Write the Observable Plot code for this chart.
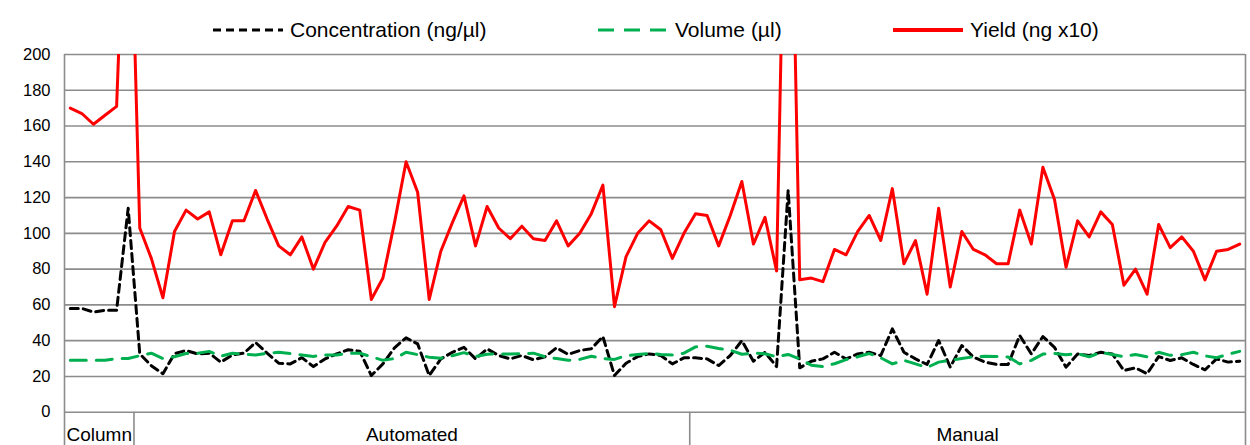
<!DOCTYPE html>
<html>
<head>
<meta charset="utf-8">
<script src="https://cdn.jsdelivr.net/npm/d3@7"></script>
<script src="https://cdn.jsdelivr.net/npm/@observablehq/plot@0.6"></script>
<style>
  html, body { margin: 0; padding: 0; background: #fff; }
  #wrap { width: 1250px; height: 445px; position: relative; overflow: hidden; font-family: "Liberation Sans", Arial, sans-serif; }
  #legend { position: relative; width: 1250px; height: 40px; }
  .li { position: absolute; top: 10px; height: 40px; display: flex; align-items: center; font-size: 21px; color: #000; white-space: nowrap; z-index: 2; }
  .li svg { margin-right: 7px; }
  #chart svg { display: block; }
</style>
</head>
<body>
<div id="wrap">
  <div id="legend"></div>
  <div id="chart"></div>
</div>
<script>
// ---- data ----
const groups = ["Column", "Automated", "Manual"];
const groupSizes = [6, 48, 48];
const seriesNames = ["Concentration (ng/µl)", "Volume (µl)", "Yield (ng x10)"];
const yTicks = [0, 20, 40, 60, 80, 100, 120, 140, 160, 180, 200];

const concentration = [
  58, 58, 56, 57, 57, 114,
  32.6, 26, 21.5, 32.7, 34.5, 32.6, 33, 28, 32, 33, 39, 33, 27.4, 27, 30.5, 25.5, 29.8, 32.6,
  34.9, 34.1, 20.5, 27, 36, 41.6, 38.2, 20.5, 29.8, 33.5, 36.3, 29.8, 35.4, 31.7, 29.8, 31.7,
  29.3, 31, 36, 32.3, 34.5, 35.5, 42.3, 20.5, 27.4, 31.1, 32.6, 31.7, 27, 30.4,
  30.4, 29.8, 26.1, 31.7, 40, 28.5, 33.5, 25.5, 124, 24.8, 28.5, 29.8, 33.5, 29.8, 32.6, 33.5,
  31.7, 46.6, 33.5, 29.8, 26.7, 40.1, 25.2, 37.3, 30.8, 28, 26.7, 26.7, 42.9, 32.6, 42.3, 36.3,
  25.2, 32.6, 31.7, 33.5, 32.6, 23.3, 24.8, 21.5, 31.1, 28.9, 30.4, 26.7, 23.7, 29.8, 28, 28.5
];

const volume = [
  29, 29, 29, 29, 30, 30,
  31.6, 33, 30, 31, 32.8, 33, 34, 31.3, 33, 32.5, 32, 33, 33.5, 32.8, 32, 31.2, 32, 32,
  33, 33, 31, 29, 30, 33.5, 32.2, 30.7, 30.2, 31.6, 33.3, 31.1, 32.4, 32.6, 32.6, 32.7,
  33, 31, 30, 29, 29.5, 31.3, 30, 29.5, 31.6, 32.2, 32.8, 32.3, 32, 33,
  36.5, 36.9, 35.6, 34.7, 32.4, 33, 32.7, 31, 32.3, 29.8, 26.3, 25.5, 27.1, 29.4, 31, 32.8,
  30.4, 27, 29, 27, 25, 28, 29, 30, 31, 31.3, 31.2, 30.9, 27, 29, 32.5, 32.9,
  32.1, 32.7, 31, 33.4, 32.3, 31, 32.3, 31, 33.5, 31.8, 32.2, 33.5, 31.5, 30.5, 32.4, 34
];

const yieldVals = [
  170, 167, 161, 166, 171, 342,
  103, 86, 64, 101, 113, 108, 112, 88, 107, 107, 124, 108, 93, 88, 98, 80, 95, 104,
  115, 113, 63, 75, 106, 140, 123, 63, 90, 106, 121, 93, 115, 103, 97, 104,
  97, 96, 107, 93, 100, 111, 127, 59, 87, 100, 107, 102, 86, 100,
  111, 110, 93, 110, 129, 94, 109, 79, 400, 74, 75, 73, 91, 88, 101, 110,
  96, 125, 83, 96, 66, 114, 70, 101, 91, 88, 83, 83, 113, 94, 137, 119,
  81, 107, 98, 112, 105, 71, 80, 66, 105, 92, 98, 90, 74, 90, 91, 94
];

// ---- styles ----
const colors = ["#000000", "#00b050", "#ff0000"];
const dashes = ["8,5", "16,10", null];
const lw = 3;

// ---- legend ----
const legendPos = [213, 598, 893];
const legend = document.getElementById("legend");
seriesNames.forEach((name, k) => {
  const d = document.createElement("div");
  d.className = "li";
  d.style.left = legendPos[k] + "px";
  const dash = dashes[k] ? `stroke-dasharray="${dashes[k]}"` : "";
  d.innerHTML = `<svg width="70" height="10"><line x1="0" y1="5" x2="70" y2="5" stroke="${colors[k]}" stroke-width="${lw + (k === 2 ? 1 : 0)}" ${dash}></line></svg><span>${name}</span>`;
  legend.appendChild(d);
});

// ---- chart ----
const n = concentration.length;
const rows = concentration.map((c, i) => ({ x: i + 0.5, conc: c, vol: volume[i], yld: yieldVals[i] }));

const bounds = [0];
groupSizes.forEach(s => bounds.push(bounds[bounds.length - 1] + s));
const groupRows = groups.map((g, k) => ({ name: g, x: (bounds[k] + bounds[k + 1]) / 2 }));
const innerBounds = bounds.slice(1, -1);
const outerBounds = [bounds[0], bounds[bounds.length - 1]];

const gridColor = "#8c8c8c";
const chart = Plot.plot({
  width: 1250,
  height: 405,
  marginTop: 14,
  marginBottom: 33.3,
  marginLeft: 64,
  marginRight: 5,
  x: { domain: [0, n], axis: null },
  y: { domain: [0, 200], axis: null },
  style: { fontFamily: "'Liberation Sans', Arial, sans-serif", background: "#fff", color: "#000" },
  marks: [
    Plot.ruleY(yTicks, { stroke: gridColor, strokeWidth: 1.6 }),
    Plot.ruleX(outerBounds, { y1: 200, y2: -19, stroke: gridColor, strokeWidth: 1.6 }),
    Plot.ruleX(innerBounds, { y1: 0, y2: -19, stroke: gridColor, strokeWidth: 1.6 }),
    Plot.text(yTicks, { x: 0, y: d => d, text: d => String(d), textAnchor: "end", dx: -14, fontSize: 16.5, fill: "#000" }),
    Plot.text(groupRows, { x: "x", y: -12.8, text: "name", fontSize: 19, fill: "#000" }),
    Plot.lineY(rows, { x: "x", y: "conc", stroke: colors[0], strokeWidth: lw, strokeDasharray: dashes[0], clip: true }),
    Plot.lineY(rows, { x: "x", y: "vol", stroke: colors[1], strokeWidth: lw, strokeDasharray: dashes[1], clip: true }),
    Plot.lineY(rows, { x: "x", y: "yld", stroke: colors[2], strokeWidth: lw, clip: true })
  ]
});
document.getElementById("chart").appendChild(chart);
</script>
</body>
</html>
